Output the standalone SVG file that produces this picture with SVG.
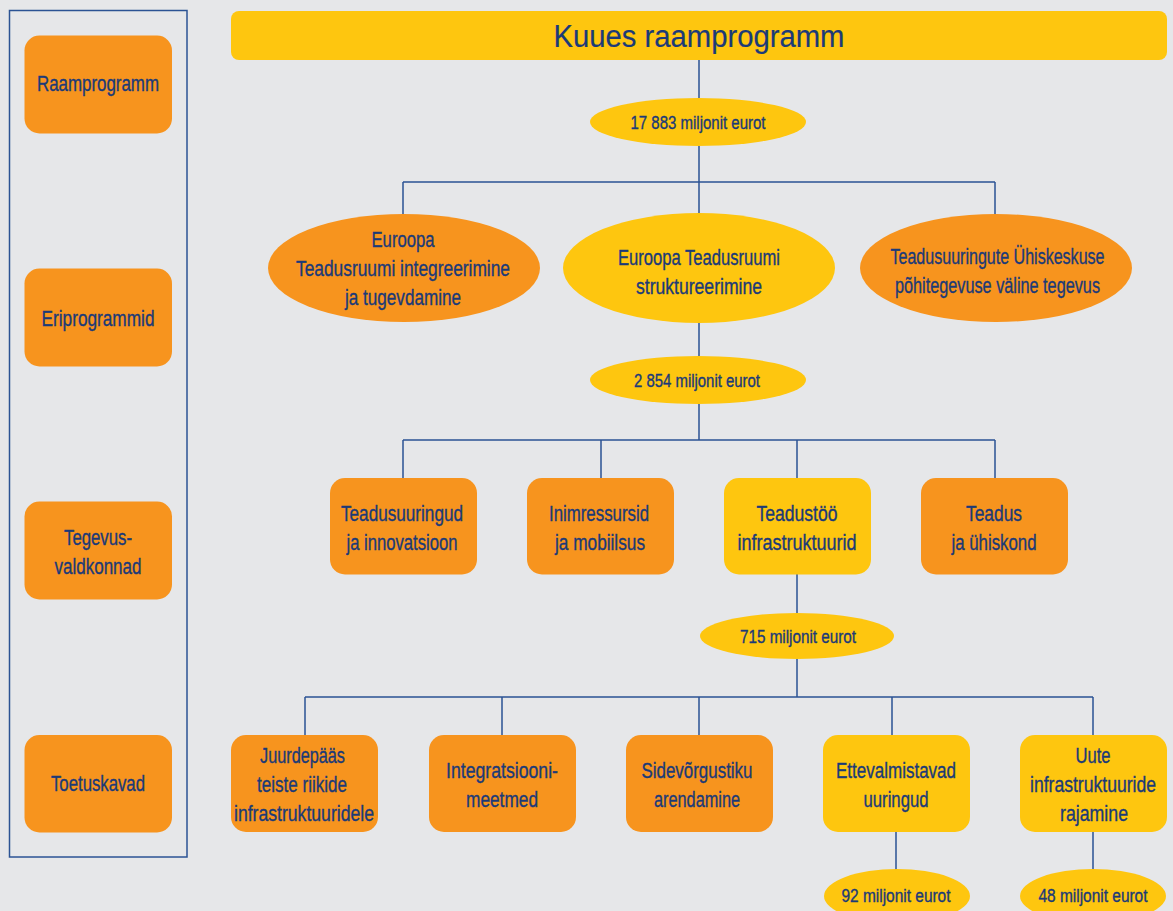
<svg xmlns="http://www.w3.org/2000/svg" width="1173" height="911" viewBox="0 0 1173 911">
<style>
.bg{fill:#e6e7e9}
.o{fill:#f7941e}
.y{fill:#fec60f}
.frame{fill:none;stroke:#2b5394;stroke-width:1.5}
.c{fill:none;stroke:#2b5394;stroke-width:1.5}
text{font-family:"Liberation Sans",Arial,sans-serif;fill:#1b3a78;stroke:#1b3a78;stroke-width:0.35;text-anchor:middle}
.t{font-size:22.5px}
.m{font-size:18px}
.h{font-size:31px;stroke-width:0.2}
</style>
<rect class="bg" x="0" y="0" width="1173" height="911"/>
<rect class="frame" x="9.5" y="10.5" width="177.5" height="846.5"/>

<g id="connectors">
<path class="c" d="M699 60V98M699 146V182M403 182H995M403 182V218M699 182V214M995 182V218"/>
<path class="c" d="M699 322V356M699 404V440M403 440H995M403 440V478M601 440V478M797 440V478M995 440V478"/>
<path class="c" d="M797 574V613M797 659V697M305 697H1093M305 697V735M502 697V735M699 697V735M892 697V735M1093 697V735"/>
<path class="c" d="M896 832V870M1093 832V870"/>
</g>

<g id="legend-raamprogramm"><rect class="o" x="24.5" y="35.5" width="147.5" height="98" rx="15"/><text class="t" x="98" y="91" textLength="122" lengthAdjust="spacingAndGlyphs">Raamprogramm</text></g>
<g id="legend-eriprogrammid"><rect class="o" x="24.5" y="268.5" width="147.5" height="98" rx="15"/><text class="t" x="98" y="326" textLength="113" lengthAdjust="spacingAndGlyphs">Eriprogrammid</text></g>
<g id="legend-tegevus"><rect class="o" x="24.5" y="501.5" width="147.5" height="98" rx="15"/><text class="t" x="98" y="545" textLength="68" lengthAdjust="spacingAndGlyphs">Tegevus-</text><text class="t" x="98" y="574" textLength="87" lengthAdjust="spacingAndGlyphs">valdkonnad</text></g>
<g id="legend-toetuskavad"><rect class="o" x="24.5" y="735" width="147.5" height="97.5" rx="15"/><text class="t" x="98" y="791" textLength="94" lengthAdjust="spacingAndGlyphs">Toetuskavad</text></g>

<g id="title"><rect class="y" x="231" y="11" width="936" height="49" rx="8"/><text class="h" x="699" y="47" textLength="291" lengthAdjust="spacingAndGlyphs">Kuues raamprogramm</text></g>
<g id="money-17883"><ellipse class="y" cx="698" cy="122" rx="108" ry="24"/><text class="m" x="698" y="128.5" textLength="135" lengthAdjust="spacingAndGlyphs">17 883 miljonit eurot</text></g>

<g id="integreerimine"><ellipse class="o" cx="404" cy="268" rx="136" ry="54"/><text class="t" x="403" y="246.5" textLength="63" lengthAdjust="spacingAndGlyphs">Euroopa</text><text class="t" x="403" y="275.5" textLength="214" lengthAdjust="spacingAndGlyphs">Teadusruumi integreerimine</text><text class="t" x="403" y="304.5" textLength="116" lengthAdjust="spacingAndGlyphs">ja tugevdamine</text></g>
<g id="struktureerimine"><ellipse class="y" cx="699" cy="268" rx="136" ry="55"/><text class="t" x="699" y="264.5" textLength="162" lengthAdjust="spacingAndGlyphs">Euroopa Teadusruumi</text><text class="t" x="699" y="293.5" textLength="126" lengthAdjust="spacingAndGlyphs">struktureerimine</text></g>
<g id="uhiskeskus"><ellipse class="o" cx="996" cy="268" rx="136" ry="54"/><text class="t" x="997.5" y="263.5" textLength="214" lengthAdjust="spacingAndGlyphs">Teadusuuringute Ühiskeskuse</text><text class="t" x="997.5" y="292.5" textLength="205" lengthAdjust="spacingAndGlyphs">põhitegevuse väline tegevus</text></g>

<g id="money-2854"><ellipse class="y" cx="698" cy="380" rx="108" ry="24"/><text class="m" x="697" y="386.5" textLength="126" lengthAdjust="spacingAndGlyphs">2 854 miljonit eurot</text></g>

<g id="teadusuuringud"><rect class="o" x="330" y="478" width="147" height="96.5" rx="15"/><text class="t" x="402" y="520.5" textLength="122" lengthAdjust="spacingAndGlyphs">Teadusuuringud</text><text class="t" x="402" y="549.5" textLength="111" lengthAdjust="spacingAndGlyphs">ja innovatsioon</text></g>
<g id="inimressursid"><rect class="o" x="527" y="478" width="147" height="96.5" rx="15"/><text class="t" x="599" y="520.5" textLength="100" lengthAdjust="spacingAndGlyphs">Inimressursid</text><text class="t" x="600" y="549.5" textLength="90" lengthAdjust="spacingAndGlyphs">ja mobiilsus</text></g>
<g id="infrastruktuurid"><rect class="y" x="724" y="478" width="147" height="96.5" rx="15"/><text class="t" x="797" y="520.5" textLength="81" lengthAdjust="spacingAndGlyphs">Teadustöö</text><text class="t" x="797" y="549.5" textLength="119" lengthAdjust="spacingAndGlyphs">infrastruktuurid</text></g>
<g id="teadus-uhiskond"><rect class="o" x="921" y="478" width="147" height="96.5" rx="15"/><text class="t" x="994" y="520.5" textLength="56" lengthAdjust="spacingAndGlyphs">Teadus</text><text class="t" x="994" y="549.5" textLength="85" lengthAdjust="spacingAndGlyphs">ja ühiskond</text></g>

<g id="money-715"><ellipse class="y" cx="797" cy="636" rx="97" ry="23"/><text class="m" x="798" y="642.5" textLength="116" lengthAdjust="spacingAndGlyphs">715 miljonit eurot</text></g>

<g id="juurdepaas"><rect class="o" x="231" y="735" width="147" height="97" rx="15"/><text class="t" x="302.5" y="762.5" textLength="85" lengthAdjust="spacingAndGlyphs">Juurdepääs</text><text class="t" x="302" y="791.5" textLength="90" lengthAdjust="spacingAndGlyphs">teiste riikide</text><text class="t" x="304" y="820.5" textLength="140" lengthAdjust="spacingAndGlyphs">infrastruktuuridele</text></g>
<g id="integratsioon"><rect class="o" x="429" y="735" width="147" height="97" rx="15"/><text class="t" x="502" y="777.5" textLength="112" lengthAdjust="spacingAndGlyphs">Integratsiooni-</text><text class="t" x="502" y="806.5" textLength="72" lengthAdjust="spacingAndGlyphs">meetmed</text></g>
<g id="sidevorgustik"><rect class="o" x="626" y="735" width="147" height="97" rx="15"/><text class="t" x="697" y="777.5" textLength="111" lengthAdjust="spacingAndGlyphs">Sidevõrgustiku</text><text class="t" x="697" y="806.5" textLength="86" lengthAdjust="spacingAndGlyphs">arendamine</text></g>
<g id="ettevalmistavad"><rect class="y" x="823" y="735" width="147" height="97" rx="15"/><text class="t" x="896" y="777.5" textLength="120" lengthAdjust="spacingAndGlyphs">Ettevalmistavad</text><text class="t" x="896" y="806.5" textLength="65" lengthAdjust="spacingAndGlyphs">uuringud</text></g>
<g id="uute-infra"><rect class="y" x="1020" y="735" width="147" height="97" rx="15"/><text class="t" x="1093" y="762.5" textLength="35" lengthAdjust="spacingAndGlyphs">Uute</text><text class="t" x="1093" y="791.5" textLength="126" lengthAdjust="spacingAndGlyphs">infrastruktuuride</text><text class="t" x="1094" y="820.5" textLength="68" lengthAdjust="spacingAndGlyphs">rajamine</text></g>

<g id="money-92"><ellipse class="y" cx="897" cy="896" rx="73" ry="27"/><text class="m" x="896" y="901.5" textLength="109" lengthAdjust="spacingAndGlyphs">92 miljonit eurot</text></g>
<g id="money-48"><ellipse class="y" cx="1093" cy="896" rx="73" ry="27"/><text class="m" x="1093" y="901.5" textLength="109" lengthAdjust="spacingAndGlyphs">48 miljonit eurot</text></g>
</svg>
